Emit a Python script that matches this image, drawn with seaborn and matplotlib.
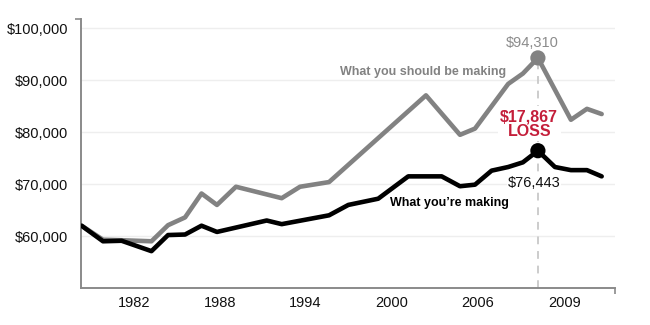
import matplotlib
matplotlib.use("Agg")
import matplotlib.pyplot as plt
from matplotlib.ticker import FuncFormatter, FixedLocator
import seaborn as sns
import pandas as pd

# Income paths (year positions as plotted, dollars)
should_years = [1978.33, 1979.83, 1981.13, 1983.22, 1984.38, 1985.57, 1986.72, 1987.80,
                1989.13, 1992.33, 1993.61, 1995.64, 2002.42, 2004.80, 2005.85, 2008.17,
                2009.20, 2010.25, 2012.56, 2013.68, 2014.71]
should_values = [62000, 59300, 59200, 59000, 62100, 63600, 68200, 66000,
                 69500, 67300, 69500, 70400, 87100, 79500, 80700, 89300,
                 91300, 94310, 82400, 84500, 83500]

making_years = [1978.33, 1979.83, 1981.13, 1983.22, 1984.38, 1985.57, 1986.72, 1987.80,
                1991.28, 1992.33, 1995.64, 1996.99, 1999.08, 2001.18, 2003.52, 2004.80,
                2005.85, 2007.01, 2008.17, 2009.20, 2010.25, 2011.44, 2012.56, 2013.68,
                2014.71]
making_values = [62000, 59000, 59100, 57100, 60200, 60300, 62000, 60800,
                 63000, 62300, 64000, 66000, 67200, 71500, 71500, 69600,
                 69900, 72600, 73300, 74200, 76443, 73300, 72700, 72700,
                 71500]

series_names = ["What you should be making", "What you\u2019re making"]
tick_years = [1982, 1988, 1994, 2000, 2006, 2012.1]
tick_labels = ["1982", "1988", "1994", "2000", "2006", "2009"]
y_ticks = [60000, 70000, 80000, 90000, 100000]

GRAY = "#828282"
BLACK = "#000000"
RED = "#c41e3a"

df = pd.concat([
    pd.DataFrame({"year": should_years, "income": should_values, "series": series_names[0]}),
    pd.DataFrame({"year": making_years, "income": making_values, "series": series_names[1]}),
])

sns.set_theme(style="white")
plt.rcParams["font.family"] = ["Liberation Sans", "DejaVu Sans"]

fig = plt.figure(figsize=(6.5, 3.25), dpi=100)
ax = fig.add_axes([0.1246, 0.1138, 0.8215, 0.8277])

sns.lineplot(data=df, x="year", y="income", hue="series", hue_order=series_names,
             palette=[GRAY, BLACK], linewidth=3.3, legend=False, ax=ax, zorder=3)

# Peak points
peak_should = max(should_values)
peak_year = should_years[should_values.index(peak_should)]
peak_making = making_values[making_years.index(peak_year)]
loss = peak_should - peak_making

ax.set_xlim(1978.29, 2015.64)
ax.set_ylim(50000, 101800)

ax.vlines(peak_year, 50000, peak_should, colors="#cccccc", linestyles=(0, (4, 3.5)),
          linewidth=1.4, zorder=1)

pts = pd.DataFrame({"year": [peak_year, peak_year], "income": [peak_should, peak_making],
                    "series": series_names})
sns.scatterplot(data=pts, x="year", y="income", hue="series", hue_order=series_names,
                palette=[GRAY, BLACK], s=120, edgecolor="none", legend=False, ax=ax, zorder=4)

# Gridlines
for v in y_ticks:
    ax.axhline(v, color="#eeeeee", linewidth=1, zorder=0)

# Axes styling
for side in ["top", "right"]:
    ax.spines[side].set_visible(False)
for side in ["left", "bottom"]:
    ax.spines[side].set_color("#8a8a8a")
    ax.spines[side].set_linewidth(1.4)

ax.xaxis.set_major_locator(FixedLocator(tick_years))
ax.set_xticklabels(tick_labels)
ax.set_yticks(y_ticks)
ax.yaxis.set_major_formatter(FuncFormatter(lambda v, p: f"${v:,.0f}"))
ax.tick_params(axis="both", which="major", length=0, labelsize=10.5, labelcolor="#111111")
ax.tick_params(axis="x", pad=6)
ax.tick_params(axis="y", pad=9)
ax.xaxis.set_minor_locator(FixedLocator([2015.64]))
ax.yaxis.set_minor_locator(FixedLocator([101800]))
ax.tick_params(which="minor", length=4, width=1.2, color="#8a8a8a", bottom=True, left=True)
ax.set_xlabel("")
ax.set_ylabel("")

# Series labels
ax.text(2002.2, 91600, series_names[0], color=GRAY, fontsize=9, fontweight="bold",
        ha="center", va="center", zorder=5)
ax.text(2004.06, 66300, series_names[1], color=BLACK, fontsize=9, fontweight="bold",
        ha="center", va="center", zorder=5)

# Value callouts
ax.text(peak_year - 0.42, 97200, f"${peak_should:,.0f}", color="#8c8c8c", fontsize=10.5,
        ha="center", va="center", zorder=5)
ax.text(peak_year - 0.6, 81600, f"${loss:,.0f}\nLOSS", color=RED, fontsize=11.5,
        fontweight="bold", ha="center", va="center", linespacing=0.95, zorder=2,
        bbox=dict(facecolor="white", edgecolor="none", pad=2))
ax.text(peak_year - 0.25, 70300, f"${peak_making:,.0f}", color="#111111", fontsize=10.5,
        ha="center", va="center", zorder=2,
        bbox=dict(facecolor="white", edgecolor="none", pad=0.5))

fig.savefig("out.png", dpi=100)
